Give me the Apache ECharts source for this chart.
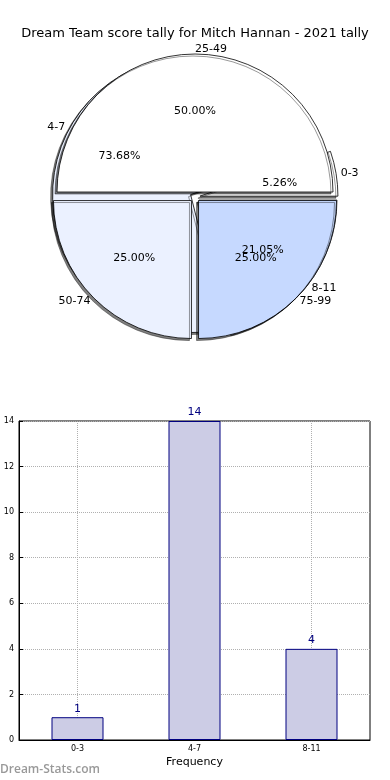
<!DOCTYPE html>
<html>
<head>
<meta charset="utf-8">
<script src="https://cdn.jsdelivr.net/npm/echarts@6/dist/echarts.min.js"></script>
<style>
html,body{margin:0;padding:0;background:#fff;}
#c{width:390px;height:780px;}
</style>
</head>
<body>
<div id="c"></div>
<script>
// ---- data ----
const titleText = 'Dream Team score tally for Mitch Hannan - 2021 tally';
const scoreBins = ['0-3', '4-7', '8-11'];
const binCounts = [1, 14, 4];
const pctBins = ['25-49', '50-74', '75-99'];
const pctValues = [50, 25, 25];
const yTicks = [0, 2, 4, 6, 8, 10, 12, 14];
const xAxisName = 'Frequency';
const yAxisName = 'Score Tally';
const watermark = 'Dream-Stats.com';

// ---- style ----
const FONT = 'DejaVu Sans';
const pieColors = ['#ffffff', '#ebf1ff', '#c6d9ff'];
const R = 138;
const C = [195, 197];

function visiblePie(names, vals, z) {
  return {
    type: 'pie', z: z, center: C, radius: [0, R], startAngle: 0, clockwise: false,
    selectedMode: 'multiple', selectedOffset: 5, avoidLabelOverlap: false,
    silent: true, animation: false,
    label: { show: false }, labelLine: { show: false },
    itemStyle: { borderColor: '#000', borderWidth: 0.8,
      shadowColor: 'rgba(0,0,0,0.5)', shadowOffsetX: -2, shadowOffsetY: 2, shadowBlur: 0 },
    data: names.map((n, i) => ({ name: n, value: vals[i], selected: true, itemStyle: { color: pieColors[i] } }))
  };
}
function pctPie(names, vals) {
  const total = vals.reduce((a, b) => a + b, 0);
  return {
    type: 'pie', z: 10, center: C, radius: [0, R * 1.2], startAngle: 0, clockwise: false,
    silent: true, animation: false, avoidLabelOverlap: false,
    labelLayout: { hideOverlap: false },
    itemStyle: { color: 'rgba(0,0,0,0)', borderWidth: 0 },
    label: { show: true, position: 'inside', color: '#000', fontSize: 11, fontFamily: FONT,
      formatter: p => (p.value / total * 100).toFixed(2) + '%' },
    labelLine: { show: false },
    data: names.map((n, i) => ({ name: n, value: vals[i] }))
  };
}
function namePie(names, vals) {
  return {
    type: 'pie', z: 10, center: C, radius: [0, R], startAngle: -0.01, clockwise: false,
    silent: true, animation: false, avoidLabelOverlap: false,
    labelLayout: { hideOverlap: false },
    itemStyle: { color: 'rgba(0,0,0,0)', borderWidth: 0 },
    label: { show: true, position: 'outside', color: '#000', fontSize: 11, fontFamily: FONT,
      formatter: '{b}', distanceToLabelLine: 0 },
    labelLine: { show: false, length: R * 0.07, length2: 0 },
    data: names.map((n, i) => ({ name: n, value: vals[i] }))
  };
}

const chart = echarts.init(document.getElementById('c'), null, { renderer: 'canvas' });
chart.setOption({
  animation: false,
  backgroundColor: '#fff',
  title: { text: titleText, left: 'center', top: 22,
    textStyle: { fontSize: 13, fontWeight: 'normal', color: '#000', fontFamily: FONT } },
  graphic: [{ type: 'text', left: 0, top: 764,
    style: { text: watermark, fill: '#999999', fontSize: 12, fontWeight: 600, fontFamily: 'Open Sans' } }],
  grid: { left: 19, right: 20, top: 421, bottom: 40, show: true, borderColor: '#000', borderWidth: 1,
    containLabel: false, outerBoundsMode: 'none' },
  xAxis: {
    type: 'category', data: scoreBins,
    axisLine: { lineStyle: { color: '#000', width: 1 } },
    axisTick: { show: true, alignWithLabel: true, inside: true, length: 4, lineStyle: { color: '#000' } },
    axisLabel: { fontSize: 8, color: '#000', fontFamily: FONT, margin: 5 },
    splitLine: { show: true, alignWithLabel: true, lineStyle: { type: 'dotted', color: '#b0b0b0', width: 1 } },
    name: xAxisName, nameLocation: 'middle', nameGap: 17,
    nameTextStyle: { fontSize: 11, color: '#000', fontFamily: FONT }
  },
  yAxis: {
    type: 'value', min: yTicks[0], max: yTicks[yTicks.length - 1], interval: yTicks[1] - yTicks[0],
    axisLine: { show: true, lineStyle: { color: '#000', width: 1 } },
    axisTick: { show: true, inside: true, length: 4, lineStyle: { color: '#000' } },
    axisLabel: { fontSize: 8, color: '#000', fontFamily: FONT, margin: 5 },
    splitLine: { show: true, lineStyle: { type: 'dotted', color: '#b0b0b0', width: 1 } },
    name: yAxisName, nameLocation: 'middle', nameGap: 2, nameRotate: 90,
    nameTextStyle: { fontSize: 10, color: '#000', fontFamily: FONT }
  },
  series: [
    visiblePie(scoreBins, binCounts, 2),
    visiblePie(pctBins, pctValues, 3),
    pctPie(scoreBins, binCounts),
    pctPie(pctBins, pctValues),
    namePie(scoreBins, binCounts),
    namePie(pctBins, pctValues),
    {
      type: 'bar', data: binCounts, barWidth: 52, silent: true,
      itemStyle: { color: '#cccce5', borderColor: '#000080', borderWidth: 1 },
      label: { show: true, position: 'top', distance: 3, color: '#000080', fontSize: 11, fontFamily: FONT }
    }
  ]
});
</script>
</body>
</html>
